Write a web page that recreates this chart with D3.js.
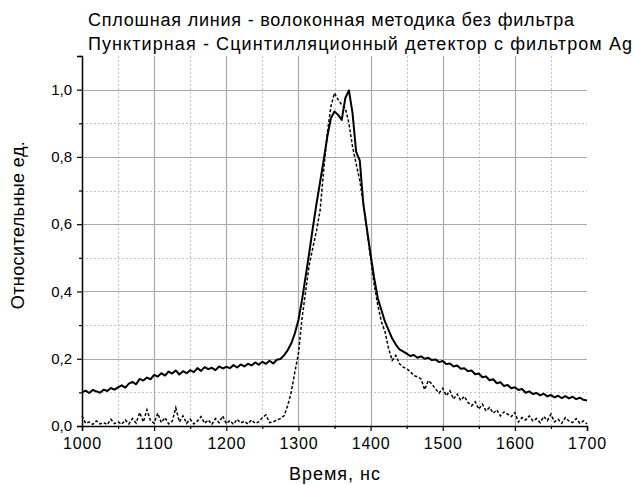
<!DOCTYPE html>
<html lang="ru">
<head>
<meta charset="utf-8" />
<title>Сравнение методик</title>
<script src="https://cdn.jsdelivr.net/npm/d3@7"></script>
<style>
    body { margin: 0; background: #fff; }
    text { font-family: "Liberation Sans", Arial, sans-serif; fill: #000; }
</style>
</head>
<body>
<script>
    // time grid, ns (every 5 ns)
    const times = d3.range(1000, 1701, 5);

    // solid line - fibre method without filter
    const fiberValues = [
        0.100, 0.105, 0.098, 0.107, 0.103, 0.099, 0.108, 0.104, 0.113, 0.108,
        0.115, 0.121, 0.114, 0.126, 0.131, 0.124, 0.140, 0.135, 0.144, 0.139,
        0.152, 0.147, 0.157, 0.150, 0.162, 0.156, 0.165, 0.153, 0.163, 0.157,
        0.166, 0.160, 0.172, 0.164, 0.175, 0.169, 0.173, 0.166, 0.177, 0.171,
        0.176, 0.172, 0.181, 0.174, 0.183, 0.177, 0.185, 0.180, 0.189, 0.182,
        0.191, 0.185, 0.194, 0.186, 0.197, 0.199, 0.210, 0.225, 0.245, 0.275,
        0.315, 0.375, 0.445, 0.515, 0.590, 0.660, 0.725, 0.790, 0.860, 0.915,
        0.935, 0.925, 0.910, 0.975, 0.998, 0.930, 0.815, 0.790, 0.660, 0.585,
        0.510, 0.440, 0.380, 0.345, 0.310, 0.285, 0.260, 0.242, 0.228, 0.222,
        0.215, 0.208, 0.211, 0.203, 0.207, 0.200, 0.203, 0.196, 0.198, 0.190,
        0.193, 0.184, 0.186, 0.177, 0.180, 0.170, 0.172, 0.163, 0.165, 0.154,
        0.156, 0.145, 0.147, 0.136, 0.139, 0.127, 0.130, 0.119, 0.122, 0.112,
        0.115, 0.107, 0.110, 0.099, 0.103, 0.095, 0.098, 0.091, 0.096, 0.088,
        0.092, 0.085, 0.090, 0.083, 0.089, 0.082, 0.087, 0.080, 0.084, 0.078,
        0.076
    ];

    // dashed line - scintillation detector with Ag filter
    const scintValues = [
        0.030, 0.008, 0.012, 0.005, 0.015, 0.006, 0.010, 0.004, 0.020, 0.007,
        0.012, 0.005, 0.018, 0.006, 0.022, 0.009, 0.040, 0.012, 0.048, 0.015,
        0.008, 0.038, 0.010, 0.025, 0.006, 0.014, 0.054, 0.012, 0.030, 0.008,
        0.020, 0.006, 0.015, 0.028, 0.008, 0.018, 0.005, 0.022, 0.010, 0.030,
        0.007, 0.016, 0.005, 0.020, 0.009, 0.014, 0.006, 0.018, 0.008, 0.012,
        0.025, 0.033, 0.010, 0.012, 0.018, 0.022, 0.030, 0.060, 0.100, 0.160,
        0.215, 0.320, 0.400, 0.480, 0.530, 0.580, 0.640, 0.760, 0.870, 0.950,
        0.990, 0.970, 0.955, 0.945, 0.900, 0.830, 0.780, 0.730, 0.660, 0.580,
        0.500, 0.420, 0.360, 0.310, 0.280, 0.230, 0.195, 0.210, 0.185, 0.176,
        0.170, 0.162, 0.150, 0.146, 0.140, 0.108, 0.135, 0.125, 0.110, 0.098,
        0.112, 0.090, 0.105, 0.080, 0.095, 0.076, 0.088, 0.070, 0.060, 0.072,
        0.050, 0.065, 0.045, 0.055, 0.038, 0.048, 0.030, 0.042, 0.035, 0.028,
        0.040, 0.012, 0.025, 0.018, 0.030, 0.015, 0.022, 0.010, 0.028, 0.016,
        0.035, 0.012, 0.020, 0.008, 0.025, 0.015, 0.010, 0.022, 0.008, 0.015,
        0.006
    ];

    const xTicks = [1000, 1100, 1200, 1300, 1400, 1500, 1600, 1700];
    const yTicks = [0.0, 0.2, 0.4, 0.6, 0.8, 1.0];
    const titleLines = [
        'Сплошная линия - волоконная методика без фильтра',
        'Пунктирная - Сцинтилляционный детектор с фильтром Ag'
    ];
    const titleWidths = [486, 544];
    const xTitle = 'Время, нс';
    const yTitle = 'Относительные ед.';

    let width = 634, height = 485;
    let plot = { left: 82, right: 587, top: 56, bottom: 426 };

    let x = d3.scaleLinear().domain([1000, 1700]).range([plot.left, plot.right]);
    let y = d3.scaleLinear().domain([0, 1.1]).range([plot.bottom, plot.top]);

    let svg = d3.select('body')
        .append('svg')
        .attr('width', width)
        .attr('height', height);

    // minor grid (dotted)
    let minorX = d3.range(1050, 1700, 100);
    let minorY = d3.range(0.1, 1.0, 0.2);
    let grid = svg.append('g');
    grid.selectAll('.vminor')
        .data(minorX)
        .enter().append('line')
        .attr('x1', d => Math.round(x(d)) + 0.5).attr('x2', d => Math.round(x(d)) + 0.5)
        .attr('y1', plot.top).attr('y2', plot.bottom)
        .attr('stroke', '#c4c4c4')
        .attr('stroke-dasharray', '2,2');
    grid.selectAll('.hminor')
        .data(minorY)
        .enter().append('line')
        .attr('x1', plot.left).attr('x2', plot.right)
        .attr('y1', d => Math.round(y(d)) + 0.5).attr('y2', d => Math.round(y(d)) + 0.5)
        .attr('stroke', '#c4c4c4')
        .attr('stroke-dasharray', '2,2');

    // major grid
    grid.selectAll('.vmajor')
        .data(xTicks.slice(1, -1))
        .enter().append('line')
        .attr('x1', d => Math.round(x(d)) + 0.5).attr('x2', d => Math.round(x(d)) + 0.5)
        .attr('y1', plot.top).attr('y2', plot.bottom)
        .attr('stroke', '#a8a8a8')
        .attr('stroke-width', 1.2);
    grid.selectAll('.hmajor')
        .data(yTicks.slice(1))
        .enter().append('line')
        .attr('x1', plot.left).attr('x2', plot.right)
        .attr('y1', d => Math.round(y(d)) + 0.5).attr('y2', d => Math.round(y(d)) + 0.5)
        .attr('stroke', '#a8a8a8')
        .attr('stroke-width', 1.2);

    // the two curves
    let line = d3.line()
        .x((d, i) => x(times[i]))
        .y(d => y(d));

    svg.append('path')
        .datum(scintValues)
        .attr('d', line)
        .attr('fill', 'none')
        .attr('stroke', '#000')
        .attr('stroke-width', 1.5)
        .attr('stroke-dasharray', '3,2');

    svg.append('path')
        .datum(fiberValues)
        .attr('d', line)
        .attr('fill', 'none')
        .attr('stroke', '#000')
        .attr('stroke-width', 2)
        .attr('stroke-linejoin', 'round');

    // axes
    let xAxis = d3.axisBottom(x)
        .tickValues(d3.range(1000, 1701, 50))
        .tickSize(5)
        .tickFormat(d => xTicks.includes(d) ? d : '');
    let gx = svg.append('g')
        .attr('transform', `translate(0,${plot.bottom})`)
        .call(xAxis);
    gx.select('.domain').attr('stroke-width', 1.5);
    gx.selectAll('.tick line')
        .attr('stroke-width', 1.2)
        .attr('y2', d => xTicks.includes(d) ? 5 : 3);
    gx.selectAll('.tick text')
        .attr('y', 12)
        .style('font-size', '16px')
        .style('letter-spacing', '0.8px')
        .style('font-family', '"Liberation Sans", Arial, sans-serif');

    let fmt = d3.format('.1f');
    let yAxis = d3.axisLeft(y)
        .tickValues(d3.range(0, 1.101, 0.1))
        .tickSize(5)
        .tickFormat(d => yTicks.some(t => Math.abs(t - d) < 1e-6) ? fmt(d).replace('.', ',') : '');
    let gy = svg.append('g')
        .attr('transform', `translate(${plot.left},0)`)
        .call(yAxis);
    gy.select('.domain').attr('stroke-width', 1.5);
    gy.selectAll('.tick line')
        .attr('stroke-width', 1.2)
        .attr('x2', d => yTicks.some(t => Math.abs(t - d) < 1e-6) ? -5 : -3);
    gy.selectAll('.tick text')
        .attr('x', -10)
        .style('font-size', '15px')
        .style('font-family', '"Liberation Sans", Arial, sans-serif');

    // titles
    svg.selectAll('.title')
        .data(titleLines)
        .enter().append('text')
        .attr('x', 88)
        .attr('y', (d, i) => 26 + i * 24)
        .attr('textLength', (d, i) => titleWidths[i])
        .attr('lengthAdjust', 'spacing')
        .style('font-size', '18px')
        .text(d => d);

    svg.append('text')
        .attr('x', 335)
        .attr('y', 480)
        .attr('text-anchor', 'middle')
        .style('font-size', '18px')
        .style('letter-spacing', '1px')
        .text(xTitle);

    svg.append('text')
        .attr('transform', `translate(24,225) rotate(-90)`)
        .attr('text-anchor', 'middle')
        .style('font-size', '18px')
        .style('letter-spacing', '0.4px')
        .text(yTitle);
</script>
</body>
</html>
